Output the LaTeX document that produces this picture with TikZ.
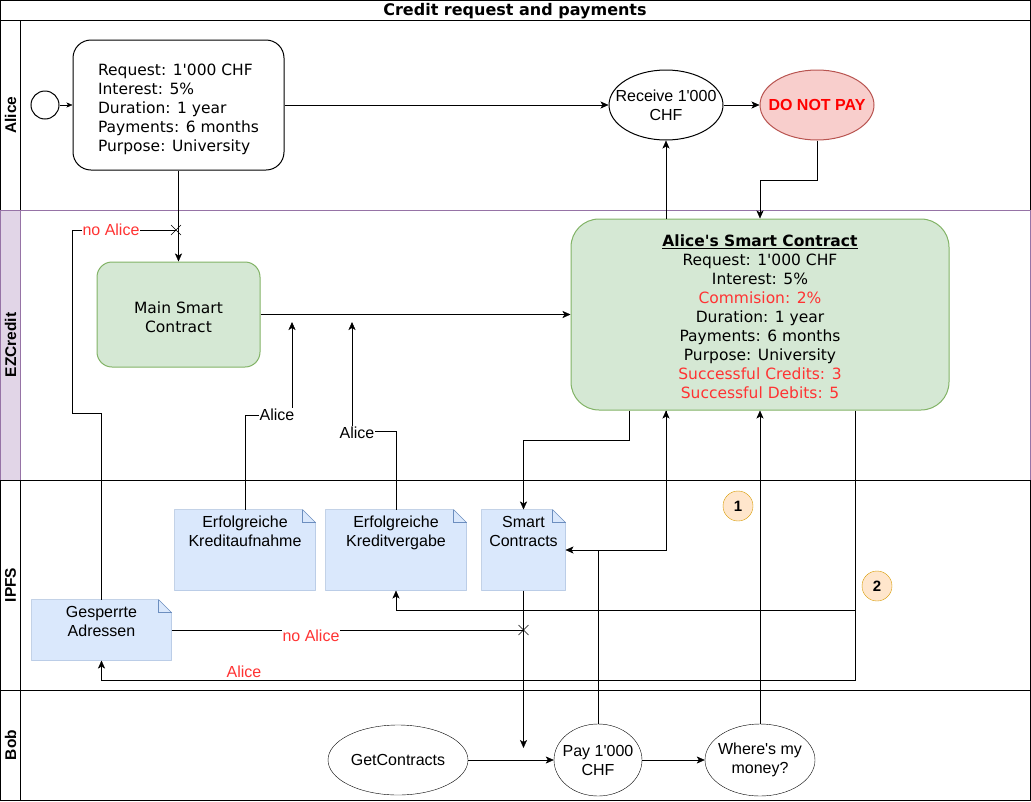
\documentclass[tikz,border=0pt]{standalone}
\usepackage{fontspec}
\setmainfont{DejaVu Sans}[Ligatures=TeXOff]
\newfontfamily\arial{Liberation Sans}[Ligatures=TeXOff]
\usetikzlibrary{arrows.meta,shapes.geometric,backgrounds}
\definecolor{grnF}{HTML}{D5E8D4}
\definecolor{grnD}{HTML}{82B366}
\definecolor{bluF}{HTML}{DAE8FC}
\definecolor{bluD}{HTML}{6C8EBF}
\definecolor{purF}{HTML}{E1D5E7}
\definecolor{purD}{HTML}{9673A6}
\definecolor{redF}{HTML}{F8CECC}
\definecolor{redD}{HTML}{B85450}
\definecolor{orgF}{HTML}{FFE6CC}
\definecolor{orgD}{HTML}{D79B00}
\definecolor{txtred}{HTML}{FF3333}
\tikzset{
 vtxt/.style={font=\fontsize{15.5}{19}\selectfont},
 atxt/.style={font=\arial\fontsize{16}{19}\selectfont},
 rbox/.style={draw=black, rounded corners=18pt, inner sep=0pt, vtxt},
 gbox/.style={draw=grnD, fill=grnF, inner sep=0pt, vtxt},
 ell/.style={ellipse, draw, inner xsep=-12pt, inner ysep=0pt, atxt, align=center},
 doc/.style={inner sep=0pt, atxt},
 arr/.style={-{Stealth[length=8pt,width=7pt,inset=2pt]}},
 lbl/.style={fill=white, inner sep=1pt, atxt},
 redlbl/.style={lbl, text=txtred},
 lanelbl/.style={font=\arial\bfseries\fontsize{15.5}{18}\selectfont, rotate=90},
 num/.style={circle, draw=orgD, fill=orgF, minimum size=30pt, inner sep=0pt, font=\arial\bfseries\fontsize{15}{18}\selectfont}
}
\begin{document}
\begin{tikzpicture}[x=1pt,y=-1pt,line width=1pt]
\useasboundingbox (0,0) rectangle (1031,801);
% lanes
\draw (0.5,0.5) rectangle (1030.5,800.5);
\node[font=\bfseries\fontsize{16}{19}\selectfont] (title) at (515,11) {Credit request and payments};
\draw (0.5,20.5) rectangle (1030.5,210.5);
\draw (20.5,20.5) -- (20.5,210.5);
\draw[purD, fill=purF] (0.5,210.5) rectangle (20.5,480.5);
\draw[purD] (0.5,210.5) rectangle (1030.5,480.5);
\draw (0.5,480.5) rectangle (1030.5,690.5);
\draw (20.5,480.5) -- (20.5,690.5);
\draw (0.5,690.5) rectangle (1030.5,800.5);
\draw (20.5,690.5) -- (20.5,800.5);
\node[lanelbl] (lA) at (10.5,115) {Alice};
\node[lanelbl] (lE) at (10.5,345) {EZCredit};
\node[lanelbl] (lI) at (10.5,585) {IPFS};
\node[lanelbl] (lB) at (10.5,745) {Bob};
% Alice lane
\node[circle, draw, minimum size=28pt, inner sep=0pt] (start) at (45,105) {};
\node[rbox, minimum width=211pt, minimum height=130pt, align=left] (req) at (178.5,105)
 {\rule{0pt}{21pt}Request: 1'000 CHF\\Interest: 5\%\\Duration: 1 year\\Payments: 6 months\\Purpose: University};
\node[ell, minimum width=114pt, minimum height=70pt] (rcv) at (666,105) {Receive 1'000\\CHF};
\node[ell, draw=redD, fill=redF, text=red, font=\arial\bfseries\fontsize{16}{19}\selectfont, minimum width=114pt, minimum height=70pt] (dnp) at (817,105) {DO NOT PAY};
% EZCredit lane
\node[gbox, rounded corners=15pt, minimum width=163pt, minimum height=105pt, align=center] (msc) at (178.5,314.5) {\rule{0pt}{17.5pt}Main Smart\\Contract};
\node[gbox, rounded corners=28pt, minimum width=378pt, minimum height=191pt, align=center] (asc) at (760,314.5)
 {\rule{0pt}{15.5pt}\textbf{\underline{Alice's Smart Contract}}\\Request: 1'000 CHF\\Interest: 5\%\\\textcolor{txtred}{Commision: 2\%}\\Duration: 1 year\\Payments: 6 months\\Purpose: University\\\textcolor{txtred}{Successful Credits: 3}\\\textcolor{txtred}{Successful Debits: 5}};
% IPFS lane
\node[doc] (ka) at (245,550) {\parbox[c][80pt][t]{140pt}{\centering\rule{0pt}{17pt}Erfolgreiche\\Kreditaufnahme}};
\node[doc] (kv) at (396,550) {\parbox[c][80pt][t]{140pt}{\centering\rule{0pt}{17pt}Erfolgreiche\\Kreditvergabe}};
\node[doc] (sc) at (523.5,550) {\parbox[c][80pt][t]{83pt}{\centering\rule{0pt}{17pt}Smart\\Contracts}};
\node[doc] (ga) at (101.5,630) {\parbox[c][60pt][t]{139pt}{\centering\rule{0pt}{17pt}Gesperrte\\Adressen}};
\begin{pgfonlayer}{background}
\foreach \n in {ka,kv,sc,ga}{
 \draw[bluD, fill=bluF] (\n.north west) -- ([xshift=-13pt]\n.north east) -- ([yshift=-13pt]\n.north east) -- (\n.south east) -- (\n.south west) -- cycle;
 \draw[bluD] ([xshift=-13pt]\n.north east) -- ([xshift=-13pt,yshift=-13pt]\n.north east) -- ([yshift=-13pt]\n.north east);
}
\end{pgfonlayer}
\node[num] (n1) at (738,506) {1};
\node[num] (n2) at (877,586) {2};
% Bob lane
\node[ell, minimum width=140pt, minimum height=70pt] (gc) at (398,760) {GetContracts};
\node[ell, minimum width=88pt, minimum height=72pt] (pay) at (598,760) {Pay 1'000\\CHF};
\node[ell, minimum width=110pt, minimum height=72pt] (wm) at (760,760) {Where's my\\money?};
% connectors
\draw[-{Stealth[length=6pt,width=5pt,inset=1.5pt]}] (start.east) -- (req.west);
\draw[arr] (req.east) -- (rcv.west);
\draw[arr] (rcv.east) -- (dnp.west);
\draw[arr] (dnp.south) -- ++(0,40) -| (asc.north);
\draw[arr] (asc.north -| rcv.south) -- (rcv.south);
\draw[arr] (req.south) -- (msc.north);
\coordinate (x1) at (176,230);
\draw (ga.north) |- (72,413) -- (72,230) -- (x1);
\draw ([shift={(-5,-5)}]x1) -- ([shift={(5,5)}]x1) ([shift={(-5,5)}]x1) -- ([shift={(5,-5)}]x1);
\node[redlbl] (l1) at (111,230) {no Alice};
\draw[arr] (msc.east) -- (asc.west);
\coordinate (a1) at (292,322);
\draw[arr] (ka.north) |- (292,415) -- (a1);
\node[lbl] (l2) at (277,415) {Alice};
\coordinate (a2) at (352,322);
\draw[arr] (kv.north) |- (352,431) -- (a2);
\node[lbl] (l3) at (357,433) {Alice};
\draw[arr] ([xshift=-131pt]asc.south) -- ++(0,30) -| (sc.north);
\draw[arr] (pay.north) |- (666,550) -- (rcv.south |- asc.south);
\draw[arr] (rcv.south |- asc.south) |- (sc.east);
\draw[arr] (wm.north) -- (asc.south);
\draw[arr] ([xshift=95pt]asc.south) |- (101.5,680) -- (ga.south);
\node[redlbl] (l4) at (244,672) {Alice};
\draw[arr] ([xshift=95pt]asc.south) |- (396,610) -- (kv.south);
\coordinate (x2) at (523.5,630);
\draw (ga.east) -- (x2);
\draw ([shift={(-5,-5)}]x2) -- ([shift={(5,5)}]x2) ([shift={(-5,5)}]x2) -- ([shift={(5,-5)}]x2);
\node[redlbl] (l5) at (311,636) {no Alice};
\coordinate (e1) at (523.5,748);
\draw[arr] (sc.south) -- (e1);
\draw[arr] (gc.east) -- (pay.west);
\draw[arr] (pay.east) -- (wm.west);
\end{tikzpicture}
\end{document}
